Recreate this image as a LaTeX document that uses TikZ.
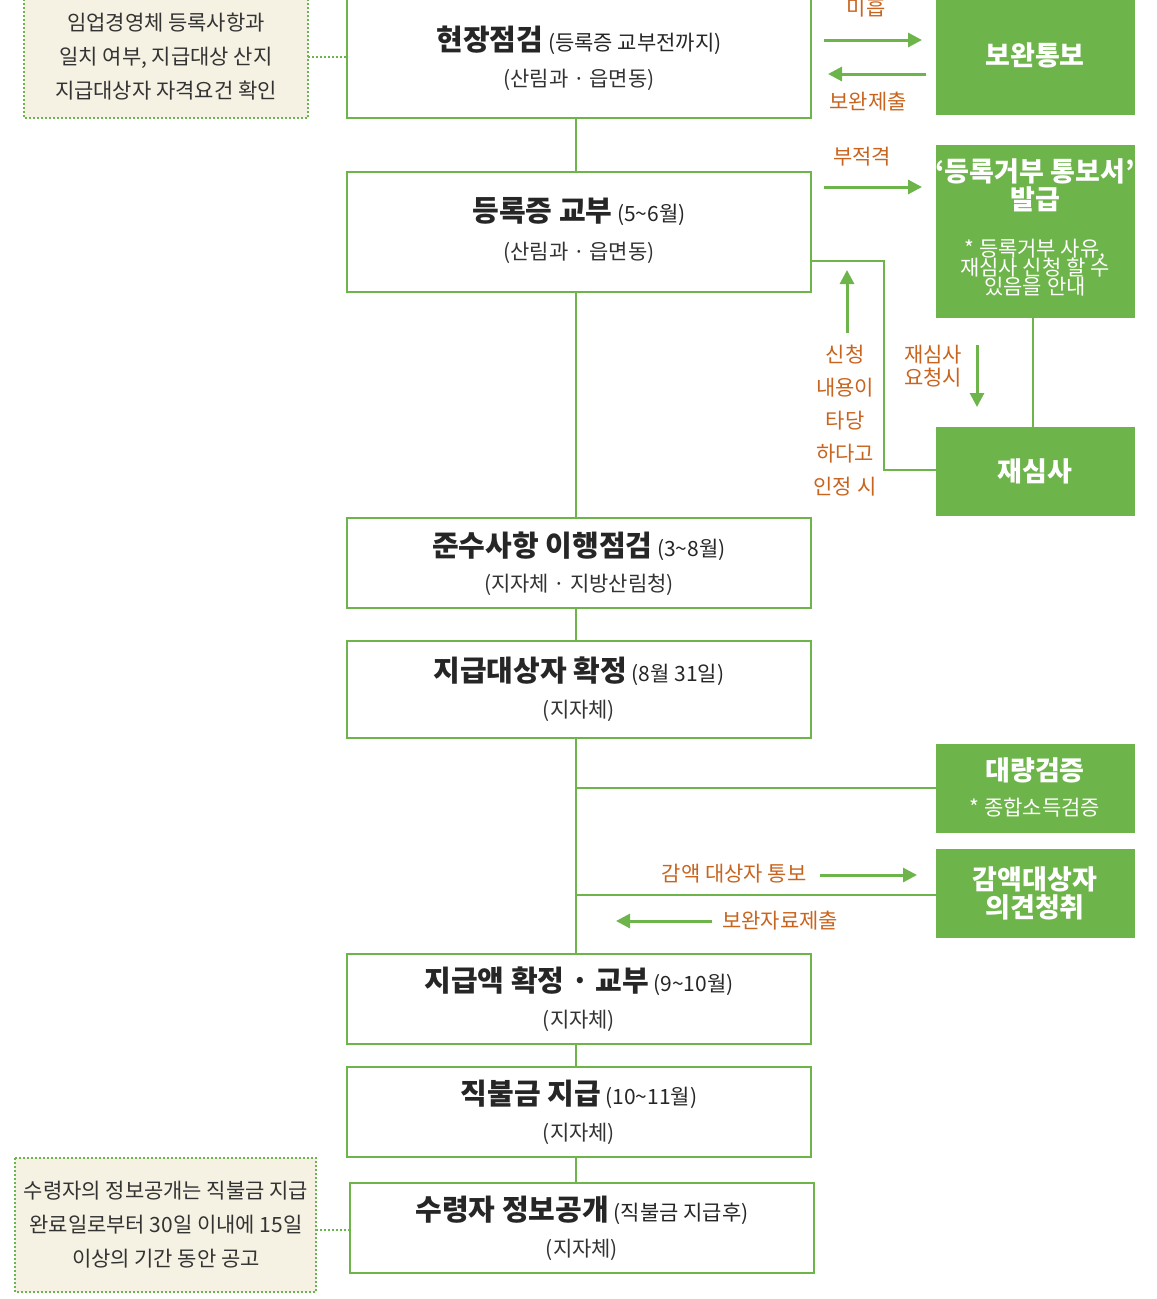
\documentclass[tikz,border=0pt]{standalone}
\usepackage{fontspec}
\setmainfont{Noto Sans CJK KR}
\usetikzlibrary{arrows.meta}
\definecolor{gr}{HTML}{6DB44A}
\definecolor{org}{HTML}{C8641E}
\definecolor{bg}{HTML}{F5F2E3}
\begin{document}
\begin{tikzpicture}[x=1pt,y=-1pt,
 mainbox/.style={draw=gr,line width=2.5pt,fill=white},
 gbox/.style={fill=gr,draw=none},
 note/.style={draw=gr,dotted,line width=2pt,fill=bg},
 ln/.style={draw=gr,line width=2.5pt},
 arr/.style={draw=gr,line width=3pt,-{Triangle[length=14pt,width=14pt]}},
 tt/.style={font=\fontsize{29}{32}\selectfont\bfseries,text=black!85},
 st/.style={font=\fontsize{21}{24}\selectfont,text=black!80},
 sm/.style={font=\fontsize{21}{23}\selectfont},
 wt/.style={text=white,font=\fontsize{27}{30}\selectfont\bfseries,align=center},
 ol/.style={text=org,font=\fontsize{21}{25}\selectfont,align=center}]
\useasboundingbox (0,0) rectangle (1157,1299);
% main boxes
\path[mainbox] (347,-5) rectangle (811,118) coordinate (b1br);
\node[tt] (t1) at (579,40) {현장점검\,{\fontsize{21}{24}\selectfont\mdseries(등록증 교부전까지)}};
\node[st] (s1) at (579,80) {(산림과 · 읍면동)};
\path[mainbox] (347,172) rectangle (811,292);
\node[tt] (t2) at (579,212) {등록증 교부\,{\fontsize{21}{24}\selectfont\mdseries(5\textasciitilde6월)}};
\node[st] (s2) at (579,253) {(산림과 · 읍면동)};
\path[mainbox] (347,518) rectangle (811,608);
\node[tt] (t3) at (579,546) {준수사항 이행점검\,{\fontsize{21}{24}\selectfont\mdseries(3\textasciitilde8월)}};
\node[st] (s3) at (579,585) {(지자체 · 지방산림청)};
\path[mainbox] (347,641) rectangle (811,738);
\node[tt] (t4) at (579,671) {지급대상자 확정\,{\fontsize{21}{24}\selectfont\mdseries(8월 31일)}};
\node[st] (s4) at (579,711) {(지자체)};
\path[mainbox] (347,954) rectangle (811,1044);
\node[tt] (t5) at (579,981) {지급액 확정 · 교부\,{\fontsize{21}{24}\selectfont\mdseries(9\textasciitilde10월)}};
\node[st] (s5) at (579,1021) {(지자체)};
\path[mainbox] (347,1067) rectangle (811,1157);
\node[tt] (t6) at (579,1094) {직불금 지급\,{\fontsize{21}{24}\selectfont\mdseries(10\textasciitilde11월)}};
\node[st] (s6) at (579,1134) {(지자체)};
\path[mainbox] (350,1183) rectangle (814,1273);
\node[tt] (t7) at (582,1210) {수령자 정보공개\,{\fontsize{21}{24}\selectfont\mdseries(직불금 지급후)}};
\node[st] (s7) at (582,1250) {(지자체)};
% vertical trunk
\coordinate (v1) at (576,118); \coordinate (v2) at (576,172);
\coordinate (v3) at (576,292); \coordinate (v4) at (576,518);
\coordinate (v5) at (576,608); \coordinate (v6) at (576,641);
\coordinate (v7) at (576,738); \coordinate (v8) at (576,954);
\coordinate (v9) at (576,1044); \coordinate (v10) at (576,1067);
\coordinate (v11) at (576,1157); \coordinate (v12) at (576,1183);
\draw[ln] (v1)--(v2) (v3)--(v4) (v5)--(v6) (v7)--(v8) (v9)--(v10) (v11)--(v12);
% green boxes
\path[gbox] (936,-5) rectangle (1135,115);
\node[wt] (g1) at (1035,55) {보완통보};
\path[gbox] (936,145) rectangle (1135,318);
\node[wt,font=\fontsize{27}{30}\selectfont\bfseries] (g2) at (1035,185) {‘등록거부 통보서’\\[-2pt]발급};
\node[text=white,sm,align=center] (g2b) at (1035,268) {* 등록거부 사유,\\[-4pt]재심사 신청 할 수\\[-4pt]있음을 안내};
\path[gbox] (936,427) rectangle (1135,516);
\node[wt] (g3) at (1035,471) {재심사};
\path[gbox] (936,744) rectangle (1135,833);
\node[wt] (g4) at (1035,770) {대량검증};
\node[text=white,sm] (g4b) at (1035,808) {* 종합소득검증};
\path[gbox] (936,849) rectangle (1135,938);
\node[wt,align=center] (g5) at (1035,893) {감액대상자\\[-2pt]의견청취};
% side connectors
\coordinate (h1) at (576,788); \coordinate (h1e) at (936,788);
\coordinate (h2) at (576,895); \coordinate (h2e) at (936,895);
\draw[ln] (h1)--(h1e) (h2)--(h2e);
\coordinate (r0) at (811,261); \coordinate (r1) at (884,261);
\coordinate (r2) at (884,470); \coordinate (r3) at (936,470);
\draw[ln] (r0)--(r1)--(r2)--(r3);
\coordinate (d0) at (1033,318); \coordinate (d1) at (1033,427);
\draw[ln] (d0)--(d1);
% arrows
\coordinate (a1s) at (824,40); \coordinate (a1e) at (922,40);
\draw[arr] (a1s)--(a1e);
\node[ol] (l1) at (866,8) {미흡};
\coordinate (a2s) at (926,74); \coordinate (a2e) at (828,74);
\draw[arr] (a2s)--(a2e);
\node[ol] (l2) at (868,102) {보완제출};
\coordinate (a3s) at (824,187); \coordinate (a3e) at (922,187);
\draw[arr] (a3s)--(a3e);
\node[ol] (l3) at (862,157) {부적격};
\coordinate (a4s) at (847,333); \coordinate (a4e) at (847,270);
\draw[arr] (a4s)--(a4e);
\node[ol,font=\fontsize{21}{33}\selectfont] (l4) at (845,421) {신청\\내용이\\타당\\하다고\\인정 시};
\coordinate (a5s) at (977,345); \coordinate (a5e) at (977,407);
\draw[arr] (a5s)--(a5e);
\node[ol,font=\fontsize{21}{23}\selectfont] (l5) at (933,366) {재심사\\요청시};
\coordinate (a6s) at (820,875); \coordinate (a6e) at (917,875);
\draw[arr] (a6s)--(a6e);
\node[ol] (l6) at (734,874) {감액 대상자 통보};
\coordinate (a7s) at (712,921); \coordinate (a7e) at (616,921);
\draw[arr] (a7s)--(a7e);
\node[ol] (l7) at (780,921) {보완자료제출};
% notes
\path[note] (24,-5) rectangle (308,118);
\node[st,align=center,font=\fontsize{21}{34}\selectfont] (n1) at (166,57) {임업경영체 등록사항과\\일치 여부, 지급대상 산지\\지급대상자 자격요건 확인};
\path[note] (15,1158) rectangle (316,1292);
\node[st,align=center,font=\fontsize{21}{34}\selectfont] (n2) at (166,1225) {수령자의 정보공개는 직불금 지급\\완료일로부터 30일 이내에 15일\\이상의 기간 동안 공고};
\coordinate (c1) at (308,57); \coordinate (c1e) at (347,57);
\coordinate (c2) at (316,1230); \coordinate (c2e) at (350,1230);
\draw[draw=gr,dotted,line width=2pt] (c1)--(c1e) (c2)--(c2e);
\end{tikzpicture}
\end{document}
